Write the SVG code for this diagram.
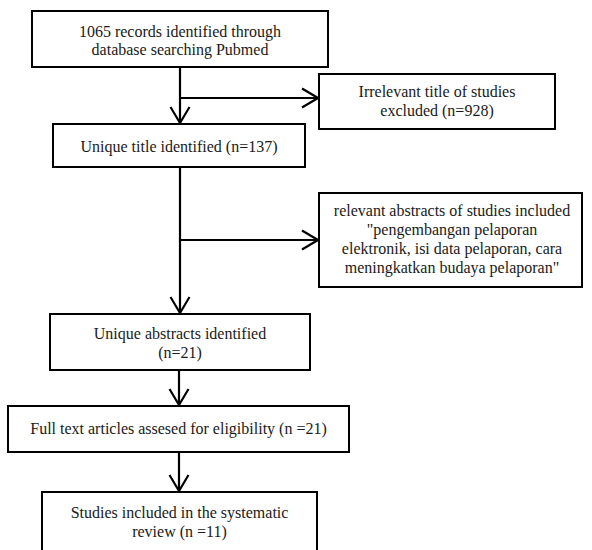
<svg xmlns="http://www.w3.org/2000/svg" width="592" height="550" viewBox="0 0 592 550">
<style>
.box{fill:#fff;stroke:#000;stroke-width:2}
.t{font-family:"Liberation Serif","Times New Roman",serif;font-size:16px;fill:#1a1a1a;text-anchor:middle}
.c{fill:none;stroke:#000;stroke-width:2.2}
</style>
<defs>
<marker id="ah" markerUnits="userSpaceOnUse" markerWidth="24" markerHeight="24" refX="17" refY="11" orient="auto">
<path d="M1,1.5 L17,11 L1,20.5" fill="none" stroke="#000" stroke-width="2.2" stroke-linejoin="round"/>
</marker>
</defs>
<rect width="592" height="550" fill="#fff"/>
<g id="connectors">
<line class="c" x1="180" y1="67" x2="180" y2="123" marker-end="url(#ah)"/>
<line class="c" x1="180" y1="98" x2="318" y2="98" marker-end="url(#ah)"/>
<line class="c" x1="180" y1="167" x2="180" y2="313" marker-end="url(#ah)"/>
<line class="c" x1="181" y1="240" x2="318" y2="240" marker-end="url(#ah)"/>
<line class="c" x1="179" y1="370" x2="179" y2="405" marker-end="url(#ah)"/>
<line class="c" x1="179" y1="452" x2="179" y2="491" marker-end="url(#ah)"/>
</g>
<g id="n1">
<rect class="box" x="32" y="11" width="296" height="56"/>
<text class="t" x="180" y="37">1065 records identified through</text>
<text class="t" x="180" y="55">database searching Pubmed</text>
</g>
<g id="n2">
<rect class="box" x="319" y="74" width="236" height="55"/>
<text class="t" x="437" y="97">Irrelevant title of studies</text>
<text class="t" x="437" y="116">excluded (n=928)</text>
</g>
<g id="n3">
<rect class="box" x="53" y="124" width="252" height="43"/>
<text class="t" x="179" y="152">Unique title identified (n=137)</text>
</g>
<g id="n4">
<rect class="box" x="319" y="193" width="263" height="94"/>
<text class="t" x="452" y="216">relevant abstracts of studies included</text>
<text class="t" x="452" y="235">"pengembangan pelaporan</text>
<text class="t" x="452" y="254">elektronik, isi data pelaporan, cara</text>
<text class="t" x="452" y="273">meningkatkan budaya pelaporan"</text>
</g>
<g id="n5">
<rect class="box" x="50" y="314" width="260" height="56"/>
<text class="t" x="180" y="339">Unique abstracts identified</text>
<text class="t" x="180" y="358">(n=21)</text>
</g>
<g id="n6">
<rect class="box" x="8" y="406" width="341" height="46"/>
<text class="t" x="178.5" y="434">Full text articles assesed for eligibility (n =21)</text>
</g>
<g id="n7">
<rect class="box" x="42" y="492" width="275" height="64"/>
<text class="t" x="179.5" y="518">Studies included in the systematic</text>
<text class="t" x="179.5" y="537">review (n =11)</text>
</g>
</svg>
